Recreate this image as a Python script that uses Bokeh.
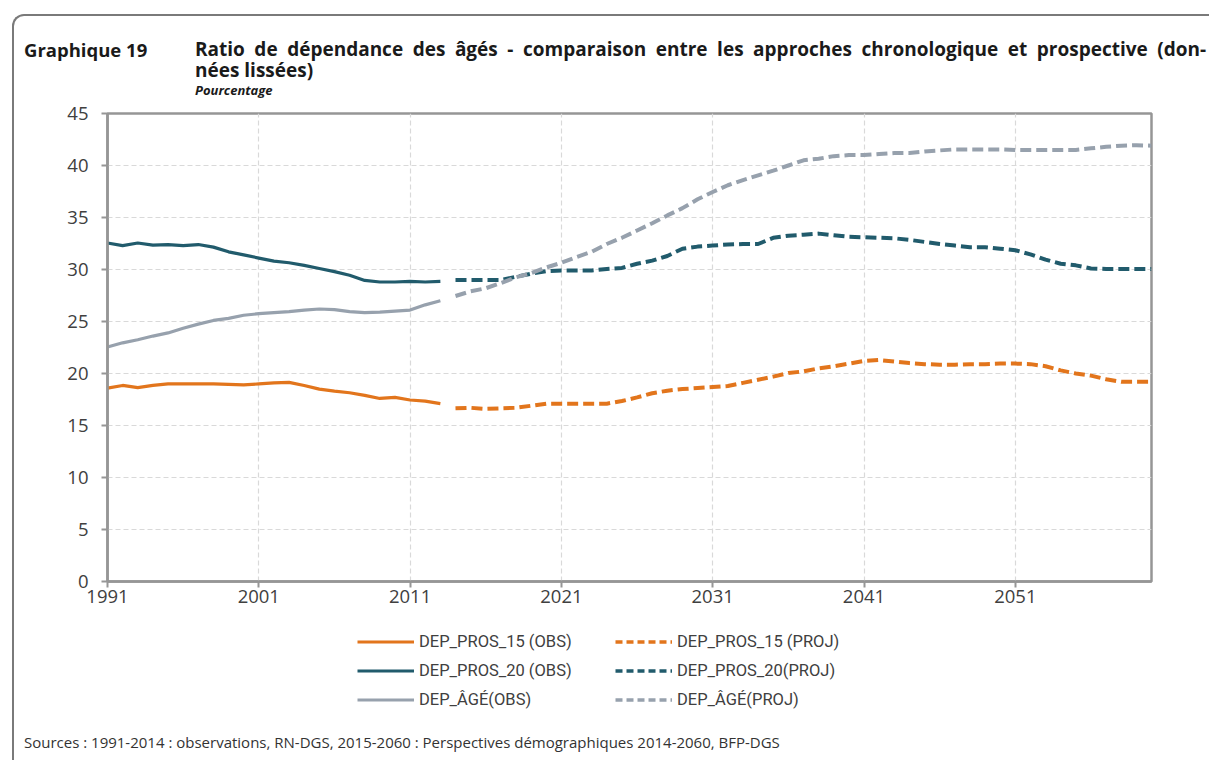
from bokeh.plotting import figure
from bokeh.models import Legend, LegendItem, FixedTicker, Range1d, Div
from bokeh.layouts import column
from bokeh.embed import file_html
from bokeh.resources import INLINE

# ---------------- data ----------------
years_obs = list(range(1991, 2014))
years_proj = list(range(2014, 2061))

pros15_obs = [18.6, 18.85, 18.65, 18.85, 19.0, 19.0, 19.0, 19.0, 18.95, 18.9,
              19.0, 19.1, 19.15, 18.85, 18.5, 18.3, 18.15, 17.9, 17.6, 17.7,
              17.45, 17.35, 17.1]
pros15_proj = [16.65, 16.7, 16.6, 16.65, 16.7, 16.9, 17.1, 17.1, 17.1, 17.1,
               17.1, 17.35, 17.7, 18.1, 18.35, 18.5, 18.6, 18.7, 18.8, 19.1,
               19.4, 19.7, 20.05, 20.2, 20.5, 20.7, 20.95, 21.2, 21.3, 21.15,
               21.0, 20.9, 20.85, 20.85, 20.9, 20.9, 20.95, 20.95, 20.9, 20.7,
               20.3, 20.0, 19.8, 19.45, 19.2, 19.2, 19.2]

pros20_obs = [32.55, 32.3, 32.55, 32.35, 32.4, 32.3, 32.4, 32.15, 31.7, 31.4,
              31.1, 30.8, 30.65, 30.4, 30.1, 29.8, 29.45, 28.95, 28.8, 28.8,
              28.85, 28.8, 28.85]
pros20_proj = [29.0, 29.0, 29.0, 29.0, 29.3, 29.6, 29.85, 29.9, 29.9, 29.9,
               30.05, 30.15, 30.55, 30.85, 31.3, 32.0, 32.2, 32.3, 32.4, 32.45,
               32.45, 33.05, 33.25, 33.35, 33.45, 33.3, 33.15, 33.1, 33.05, 33.0,
               32.85, 32.65, 32.45, 32.3, 32.15, 32.15, 32.0, 31.85, 31.45, 30.95,
               30.55, 30.4, 30.1, 30.05, 30.05, 30.05, 30.05]

age_obs = [22.55, 22.95, 23.25, 23.6, 23.9, 24.35, 24.75, 25.1, 25.3, 25.6,
           25.75, 25.85, 25.95, 26.1, 26.2, 26.15, 25.95, 25.85, 25.9, 26.0,
           26.1, 26.6, 27.0]
age_proj = [27.45, 27.9, 28.2, 28.7, 29.25, 29.65, 30.2, 30.65, 31.2, 31.7,
            32.45, 33.05, 33.75, 34.45, 35.2, 35.9, 36.75, 37.45, 38.1, 38.6,
            39.05, 39.5, 40.0, 40.5, 40.65, 40.9, 41.0, 41.0, 41.1, 41.2,
            41.2, 41.35, 41.45, 41.55, 41.55, 41.55, 41.55, 41.5, 41.5, 41.5,
            41.5, 41.5, 41.65, 41.8, 41.9, 41.95, 41.9]

x_ticks = [1991, 2001, 2011, 2021, 2031, 2041, 2051]
y_ticks = [0, 5, 10, 15, 20, 25, 30, 35, 40, 45]

labels_obs = ["DEP_PROS_15 (OBS)", "DEP_PROS_20 (OBS)", "DEP_ÂGÉ(OBS)"]
labels_proj = ["DEP_PROS_15 (PROJ)", "DEP_PROS_20(PROJ)", "DEP_ÂGÉ(PROJ)"]

title_num = "Graphique 19"
title_l1 = "Ratio de dépendance des âgés - comparaison entre les approches chronologique et prospective (don-"
title_l2 = "nées lissées)"
subtitle = "Pourcentage"
source = "Sources : 1991-2014 : observations, RN-DGS, 2015-2060 : Perspectives démographiques 2014-2060, BFP-DGS"

# ---------------- styles ----------------
C15 = "#E2751C"
C20 = "#215B6C"
CAGE = "#97A1AD"
AXIS = "#969696"
TXT = "#404040"
SOLID_W = 3.2
DASH_W = 4
DASH = "11 5"

title_html = (
    '<div style="position:relative;width:1190px;height:85px;'
    "font-family:'Open Sans',sans-serif;color:#1a1a1a;\">"
    '<div style="position:absolute;left:10px;top:23px;font-weight:bold;'
    f'font-size:18.5px;line-height:21px;white-space:nowrap;">{title_num}</div>'
    '<div style="position:absolute;left:181px;top:23px;font-weight:bold;'
    f'font-size:19px;line-height:21px;white-space:nowrap;">'
    f'<span style="word-spacing:4.6px;">{title_l1}</span><br>{title_l2}</div>'
    '<div style="position:absolute;left:181px;top:67px;font-weight:bold;font-style:italic;'
    f'font-size:13px;line-height:15px;white-space:nowrap;">{subtitle}</div></div>'
)
title_div = Div(text=title_html, width=1195, height=85, margin=0)

source_html = (
    '<div style="position:relative;width:1190px;height:43px;'
    "font-family:'Open Sans',sans-serif;color:#333333;\">"
    '<div style="position:absolute;left:10px;top:17px;font-size:15px;line-height:17px;'
    f'white-space:nowrap;">{source}</div></div>'
)
source_div = Div(text=source_html, width=1195, height=43, margin=0)

# ---------------- main chart ----------------
p = figure(width=1195, height=516, output_backend="svg", toolbar_location=None,
           x_range=Range1d(1991, 2060), y_range=Range1d(0, 45),
           min_border_left=93, min_border_right=58, min_border_top=12,
           min_border_bottom=36)
p.background_fill_color = "white"
p.border_fill_color = None
p.outline_line_color = AXIS
p.outline_line_width = 2.5

for ax in (p.xaxis[0], p.yaxis[0]):
    ax.axis_line_color = AXIS
    ax.axis_line_width = 2.5
    ax.major_tick_line_color = AXIS
    ax.major_tick_line_width = 2
    ax.major_tick_in = 0
    ax.major_tick_out = 6
    ax.minor_tick_line_color = None
    ax.major_label_text_font = "Open Sans"
    ax.major_label_text_font_size = "18.5px"
    ax.major_label_text_color = TXT
p.xaxis.ticker = FixedTicker(ticks=x_ticks)
p.yaxis.ticker = FixedTicker(ticks=y_ticks)
p.xaxis.major_label_standoff = 2
p.yaxis.major_label_standoff = 13

p.grid.grid_line_color = "#d9d9d9"
p.grid.grid_line_dash = "5 3"
p.grid.grid_line_width = 1.2

p.line(years_obs, pros15_obs, line_color=C15, line_width=SOLID_W)
p.line(years_obs, pros20_obs, line_color=C20, line_width=SOLID_W)
p.line(years_obs, age_obs, line_color=CAGE, line_width=SOLID_W)
p.line(years_proj, pros15_proj, line_color=C15, line_width=DASH_W, line_dash=DASH)
p.line(years_proj, pros20_proj, line_color=C20, line_width=DASH_W, line_dash=DASH)
p.line(years_proj, age_proj, line_color=CAGE, line_width=DASH_W, line_dash=DASH)

# ---------------- legend (own strip below the chart, frames aligned) ----------------
lg = figure(width=1195, height=100, output_backend="svg", toolbar_location=None,
            x_range=Range1d(0, 1), y_range=Range1d(0, 1),
            x_axis_location=None, y_axis_location=None, min_border=0)
lg.outline_line_color = None
lg.grid.visible = False
lg.background_fill_color = "white"
lg.border_fill_color = None

colors = [C15, C20, CAGE]
obs_series = [pros15_obs, pros20_obs, age_obs]
proj_series = [pros15_proj, pros20_proj, age_proj]
items = []
for lab, c, ys in zip(labels_obs, colors, obs_series):
    r = lg.line(years_obs, ys, line_color=c, line_width=SOLID_W)
    items.append(LegendItem(label=lab, renderers=[r]))
for lab, c, ys in zip(labels_proj, colors, proj_series):
    r = lg.line(years_proj, ys, line_color=c, line_width=3.5, line_dash="7 4")
    items.append(LegendItem(label=lab, renderers=[r]))

legend = Legend(items=items, location=(250, 3), orientation="vertical", ncols=2,
                glyph_width=57, glyph_height=29, label_height=29, label_width=196,
                label_standoff=5, spacing=0, padding=0, margin=0,
                border_line_color=None, background_fill_alpha=0,
                label_text_font="Roboto", label_text_font_size="16.5px",
                label_text_color=TXT)
lg.add_layout(legend, "center")

root = column(title_div, p, lg, source_div, spacing=0)
root.margin = (14, 0, 0, 12)
root.styles = {"border-left": "2px solid #7a7a7a", "border-top": "2px solid #7a7a7a",
               "border-top-left-radius": "12px"}

open("out.html", "w").write(file_html(root, INLINE))
